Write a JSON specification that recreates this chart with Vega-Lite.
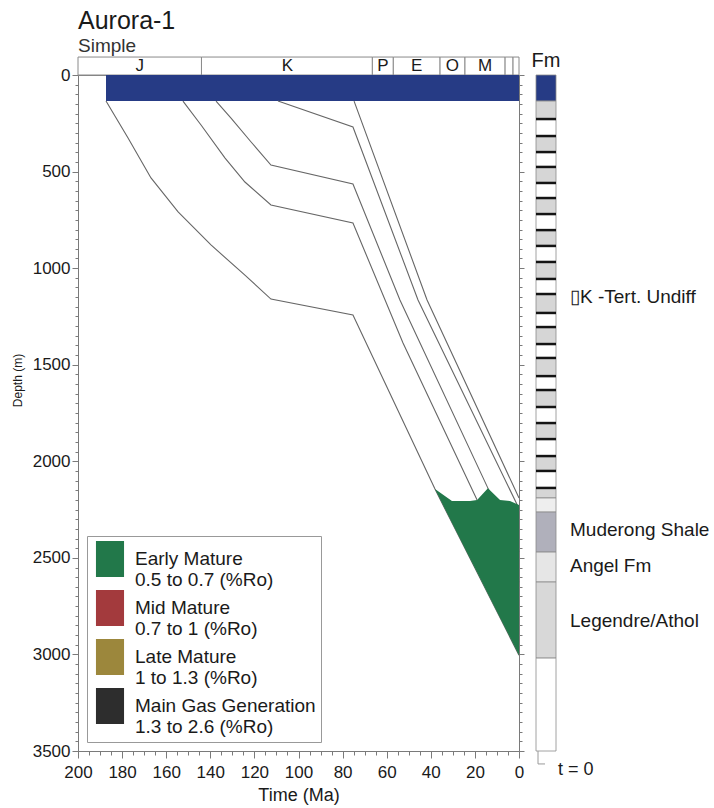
{
  "$schema": "https://vega.github.io/schema/vega-lite/v6.json",
  "autosize": {"type": "pad"},
  "padding": {"left": 10, "top": 8, "right": 0, "bottom": 0},
  "background": "white",
  "config": {
    "font": "Liberation Sans",
    "view": {"stroke": "#808080", "strokeWidth": 1},
    "axis": {"labelFont": "Liberation Sans", "titleFont": "Liberation Sans", "labelColor": "#1a1a1a", "titleColor": "#1a1a1a", "domainColor": "#7a7a7a", "tickColor": "#7a7a7a", "titleFontWeight": "normal", "grid": false},
    "text": {"font": "Liberation Sans", "color": "#1a1a1a"}
  },
  "datasets": {
    "periods": [
      {"p": "J", "t1": 200, "t2": 144, "mid": 172},
      {"p": "K", "t1": 144, "t2": 66.5, "mid": 105},
      {"p": "P", "t1": 66.5, "t2": 57, "mid": 61.7},
      {"p": "E", "t1": 57, "t2": 35.8, "mid": 46.4},
      {"p": "O", "t1": 35.8, "t2": 24.5, "mid": 30.2},
      {"p": "M", "t1": 24.5, "t2": 6.3, "mid": 15.4},
      {"p": "", "t1": 6.3, "t2": 2.7, "mid": 4.5},
      {"p": "", "t1": 2.7, "t2": 0, "mid": 1.3}
    ],
    "water": [{"t1": 187.3, "t2": 0, "d1": 0, "d2": 135}],
    "lines": [
      {"h": "A", "t": 187.3, "d": 135}, {"h": "A", "t": 177.3, "d": 326}, {"h": "A", "t": 166.9, "d": 533}, {"h": "A", "t": 154.6, "d": 709}, {"h": "A", "t": 139.7, "d": 880}, {"h": "A", "t": 124.3, "d": 1036}, {"h": "A", "t": 112.5, "d": 1160}, {"h": "A", "t": 75.3, "d": 1243}, {"h": "A", "t": 38.1, "d": 2144}, {"h": "A", "t": 0, "d": 3004},
      {"h": "B", "t": 152.4, "d": 135}, {"h": "B", "t": 144.2, "d": 259}, {"h": "B", "t": 133.3, "d": 430}, {"h": "B", "t": 124.3, "d": 554}, {"h": "B", "t": 112.5, "d": 673}, {"h": "B", "t": 75.3, "d": 766}, {"h": "B", "t": 52.6, "d": 1388}, {"h": "B", "t": 19.0, "d": 2201}, {"h": "B", "t": 0, "d": 2626},
      {"h": "C", "t": 137.4, "d": 135}, {"h": "C", "t": 130.6, "d": 223}, {"h": "C", "t": 121.5, "d": 347}, {"h": "C", "t": 112.5, "d": 466}, {"h": "C", "t": 75.3, "d": 564}, {"h": "C", "t": 54.0, "d": 1165}, {"h": "C", "t": 14.1, "d": 2139}, {"h": "C", "t": 0, "d": 2470},
      {"h": "D", "t": 109.3, "d": 135}, {"h": "D", "t": 75.3, "d": 269}, {"h": "D", "t": 45.8, "d": 1165}, {"h": "D", "t": 0, "d": 2245},
      {"h": "E", "t": 74.8, "d": 135}, {"h": "E", "t": 41.7, "d": 1165}, {"h": "E", "t": 0, "d": 2190}
    ],
    "mature": [
      {"zone": "Early Mature|0.5 to 0.7 (%Ro)", "t": 38.1, "top": 2144, "base": 2144},
      {"zone": "Early Mature|0.5 to 0.7 (%Ro)", "t": 30.4, "top": 2206, "base": 2318},
      {"zone": "Early Mature|0.5 to 0.7 (%Ro)", "t": 22.2, "top": 2206, "base": 2503},
      {"zone": "Early Mature|0.5 to 0.7 (%Ro)", "t": 19.0, "top": 2201, "base": 2575},
      {"zone": "Early Mature|0.5 to 0.7 (%Ro)", "t": 14.1, "top": 2139, "base": 2686},
      {"zone": "Early Mature|0.5 to 0.7 (%Ro)", "t": 8.6, "top": 2201, "base": 2810},
      {"zone": "Early Mature|0.5 to 0.7 (%Ro)", "t": 4.1, "top": 2206, "base": 2911},
      {"zone": "Early Mature|0.5 to 0.7 (%Ro)", "t": 0, "top": 2226, "base": 3004}
    ],
    "fm": [
      {"top": 0, "base": 135, "lith": "water"},
      {"top": 135, "base": 228, "lith": "stipple"}, {"top": 228, "base": 316, "lith": "plain"},
      {"top": 316, "base": 399, "lith": "stipple"}, {"top": 399, "base": 476, "lith": "plain"},
      {"top": 476, "base": 559, "lith": "stipple"}, {"top": 559, "base": 637, "lith": "plain"},
      {"top": 637, "base": 720, "lith": "stipple"}, {"top": 720, "base": 803, "lith": "plain"},
      {"top": 803, "base": 885, "lith": "stipple"}, {"top": 885, "base": 968, "lith": "plain"},
      {"top": 968, "base": 1056, "lith": "stipple"}, {"top": 1056, "base": 1134, "lith": "plain"},
      {"top": 1134, "base": 1232, "lith": "stipple"}, {"top": 1232, "base": 1305, "lith": "plain"},
      {"top": 1305, "base": 1393, "lith": "stipple"}, {"top": 1393, "base": 1465, "lith": "plain"},
      {"top": 1465, "base": 1559, "lith": "stipple"}, {"top": 1559, "base": 1631, "lith": "plain"},
      {"top": 1631, "base": 1719, "lith": "stipple"}, {"top": 1719, "base": 1802, "lith": "plain"},
      {"top": 1802, "base": 1885, "lith": "stipple"}, {"top": 1885, "base": 1973, "lith": "plain"},
      {"top": 1973, "base": 2050, "lith": "stipple"}, {"top": 2050, "base": 2138, "lith": "plain"},
      {"top": 2138, "base": 2190, "lith": "stipple"}, {"top": 2190, "base": 2263, "lith": "light"},
      {"top": 2263, "base": 2470, "lith": "muderong"}, {"top": 2470, "base": 2625, "lith": "angel"},
      {"top": 2625, "base": 3019, "lith": "legendre"}, {"top": 3019, "base": 3500, "lith": "plain"}
    ],
    "blacklines": [
      {"d": 228}, {"d": 316}, {"d": 399}, {"d": 476}, {"d": 559}, {"d": 637}, {"d": 720}, {"d": 803},
      {"d": 885}, {"d": 968}, {"d": 1056}, {"d": 1134}, {"d": 1232}, {"d": 1305}, {"d": 1393}, {"d": 1465},
      {"d": 1559}, {"d": 1631}, {"d": 1719}, {"d": 1802}, {"d": 1885}, {"d": 1973}, {"d": 2050}, {"d": 2138}
    ],
    "fmlabels": [
      {"label": "▯K -Tert. Undiff", "d": 1149},
      {"label": "Muderong Shale", "d": 2356},
      {"label": "Angel Fm", "d": 2542},
      {"label": "Legendre/Athol", "d": 2827}
    ]
  },
  "bounds": "flush",
  "spacing": 17,
  "hconcat": [
    {
      "width": 441,
      "height": 676,
      "title": {"text": "Aurora-1", "subtitle": "Simple", "anchor": "start", "frame": "group", "fontSize": 25, "fontWeight": "normal", "color": "#1a1a1a", "subtitleFontSize": 19, "subtitleColor": "#333333", "subtitlePadding": 3, "offset": 1},
      "resolve": {"axis": {"y": "independent"}},
      "layer": [
        {
          "data": {"name": "periods"},
          "mark": {"type": "rect", "fill": "white", "stroke": "#8a8a8a", "strokeWidth": 1},
          "encoding": {
            "x": {"field": "t1", "type": "quantitative", "title": "Time (Ma)", "scale": {"domain": [0, 200], "reverse": true, "nice": false, "zero": false},
              "axis": {"tickCount": 40, "format": "d", "labelExpr": "datum.value % 20 === 0 ? datum.label : ''", "tickSize": {"condition": {"test": "datum.value % 20 === 0", "value": 7}, "value": 4}, "labelFontSize": 17, "labelPadding": 6, "labelOverlap": false, "labelFlush": false, "titleFontSize": 18, "titlePadding": 6}},
            "x2": {"field": "t2"},
            "y": {"datum": -93, "type": "quantitative", "scale": {"domain": [0, 3500], "reverse": true, "nice": false, "zero": false}, "axis": null},
            "y2": {"datum": 0}
          }
        },
        {
          "data": {"name": "water"},
          "mark": {"type": "rect", "fill": "#263b85"},
          "encoding": {
            "x": {"field": "t1", "type": "quantitative", "title": "Time (Ma)", "scale": {"domain": [0, 200], "reverse": true, "nice": false, "zero": false}},
            "x2": {"field": "t2"},
            "y": {"field": "d1", "type": "quantitative", "title": "Depth (m)", "scale": {"domain": [0, 3500], "reverse": true, "nice": false, "zero": false},
              "axis": {"orient": "left", "tickCount": 70, "format": "d", "labelExpr": "datum.value % 500 === 0 ? datum.label : ''", "tickSize": {"condition": {"test": "datum.value % 500 === 0", "value": 6}, "value": 3}, "labelFontSize": 17, "labelPadding": 2, "labelOverlap": false, "labelFlush": false, "titleFontSize": 12, "titlePadding": 8, "titleY": 305}},
            "y2": {"field": "d2"}
          }
        },
        {
          "data": {"name": "lines"},
          "mark": {"type": "line", "stroke": "#666666", "strokeWidth": 1.1},
          "encoding": {
            "x": {"field": "t", "type": "quantitative", "title": "Time (Ma)", "scale": {"domain": [0, 200], "reverse": true, "nice": false, "zero": false}},
            "y": {"field": "d", "type": "quantitative", "title": "Depth (m)", "scale": {"domain": [0, 3500], "reverse": true, "nice": false, "zero": false},
              "axis": {"orient": "right", "tickCount": 70, "labels": false, "title": null, "tickSize": {"condition": {"test": "datum.value % 500 === 0", "value": 5}, "value": 3}}},
            "detail": {"field": "h", "type": "nominal"}
          }
        },
        {
          "data": {"name": "mature"},
          "mark": {"type": "area", "opacity": 1},
          "encoding": {
            "x": {"field": "t", "type": "quantitative", "title": "Time (Ma)", "scale": {"domain": [0, 200], "reverse": true, "nice": false, "zero": false}},
            "y": {"field": "top", "type": "quantitative", "scale": {"domain": [0, 3500], "reverse": true, "nice": false, "zero": false}, "axis": null},
            "y2": {"field": "base"},
            "color": {"field": "zone", "type": "nominal",
              "scale": {"domain": ["Early Mature|0.5 to 0.7 (%Ro)", "Mid Mature|0.7 to 1 (%Ro)", "Late Mature|1 to 1.3 (%Ro)", "Main Gas Generation|1.3 to 2.6 (%Ro)"], "range": ["#22784a", "#a33a3d", "#9c873c", "#2d2d2d"]},
              "legend": {"title": null, "orient": "bottom-left", "offset": 9, "symbolType": "M-0.78,-1H0.78V1H-0.78Z", "symbolSize": 1296, "symbolStrokeWidth": 0, "symbolOpacity": 1, "labelFontSize": 19, "labelColor": "#1a1a1a", "labelLimit": 300, "labelOffset": 7, "rowPadding": -1, "padding": 5, "strokeColor": "#999999", "fillColor": "white", "labelExpr": "split(datum.label, '|')",
                "encode": {"labels": {"update": {"lineHeight": {"value": 21}}}}}
            }
          }
        },
        {
          "data": {"name": "periods"},
          "mark": {"type": "text", "fontSize": 17, "baseline": "middle"},
          "encoding": {
            "x": {"field": "mid", "type": "quantitative", "title": "Time (Ma)", "scale": {"domain": [0, 200], "reverse": true, "nice": false, "zero": false}},
            "y": {"datum": -47, "type": "quantitative", "scale": {"domain": [0, 3500], "reverse": true, "nice": false, "zero": false}, "axis": null},
            "text": {"field": "p"}
          }
        }
      ]
    },
    {
      "width": 20,
      "height": 676,
      "view": {"stroke": null},
      "title": {"text": "Fm", "fontSize": 20, "fontWeight": "normal", "anchor": "middle", "offset": 4, "color": "#1a1a1a"},
      "layer": [
        {
          "data": {"name": "fm"},
          "mark": {"type": "rect", "stroke": "#8a8a8a", "strokeWidth": 0.8},
          "encoding": {
            "x": {"datum": 0, "type": "quantitative", "scale": {"domain": [0, 1], "nice": false, "zero": false}, "axis": null},
            "x2": {"datum": 1},
            "y": {"field": "top", "type": "quantitative", "scale": {"domain": [0, 3500], "reverse": true, "nice": false, "zero": false}, "axis": null},
            "y2": {"field": "base"},
            "fill": {"field": "lith", "type": "nominal", "legend": null,
              "scale": {"domain": ["water", "stipple", "plain", "light", "muderong", "angel", "legendre"], "range": ["#263b85", "#d6d6d6", "#ffffff", "#eeeeee", "#b0b0bb", "#e6e6e6", "#d8d8d8"]}}
          }
        },
        {
          "data": {"name": "blacklines"},
          "mark": {"type": "rule", "stroke": "#141414", "strokeWidth": 2.5},
          "encoding": {
            "y": {"field": "d", "type": "quantitative", "scale": {"domain": [0, 3500], "reverse": true, "nice": false, "zero": false}, "axis": null}
          }
        },
        {
          "data": {"name": "fmlabels"},
          "mark": {"type": "text", "align": "left", "baseline": "middle", "fontSize": 19},
          "encoding": {
            "x": {"datum": 1.7, "type": "quantitative", "scale": {"domain": [0, 1], "nice": false, "zero": false}, "axis": null},
            "y": {"field": "d", "type": "quantitative", "scale": {"domain": [0, 3500], "reverse": true, "nice": false, "zero": false}, "axis": null},
            "text": {"field": "label"}
          }
        },
        {
          "data": {"values": [{"label": "t = 0"}]},
          "mark": {"type": "text", "align": "left", "baseline": "middle", "fontSize": 18},
          "encoding": {
            "x": {"datum": 1.1, "type": "quantitative", "scale": {"domain": [0, 1], "nice": false, "zero": false}, "axis": null},
            "y": {"datum": 3598, "type": "quantitative", "scale": {"domain": [0, 3500], "reverse": true, "nice": false, "zero": false}, "axis": null},
            "text": {"field": "label"}
          }
        },
        {
          "data": {"values": [{"k": 1}]},
          "mark": {"type": "rule", "stroke": "#9a9a9a", "strokeWidth": 1},
          "encoding": {
            "x": {"datum": 0.1, "type": "quantitative", "scale": {"domain": [0, 1], "nice": false, "zero": false}, "axis": null},
            "y": {"datum": 3500, "type": "quantitative", "scale": {"domain": [0, 3500], "reverse": true, "nice": false, "zero": false}, "axis": null},
            "y2": {"datum": 3567}
          }
        },
        {
          "data": {"values": [{"k": 1}]},
          "mark": {"type": "rule", "stroke": "#9a9a9a", "strokeWidth": 1},
          "encoding": {
            "x": {"datum": 0.1, "type": "quantitative", "scale": {"domain": [0, 1], "nice": false, "zero": false}, "axis": null},
            "x2": {"datum": 0.45},
            "y": {"datum": 3567, "type": "quantitative", "scale": {"domain": [0, 3500], "reverse": true, "nice": false, "zero": false}, "axis": null}
          }
        }
      ]
    }
  ]
}
